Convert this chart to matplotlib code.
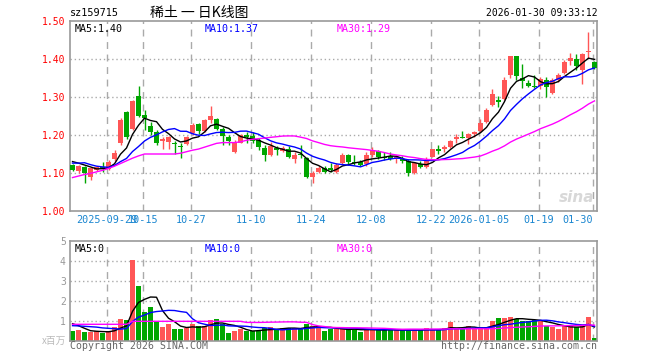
import numpy as np
import matplotlib
matplotlib.use("Agg")
import matplotlib.pyplot as plt

# daily candles, 2025-09-19 .. 2026-01-30 (88 trading days)
opens = [1.121, 1.106, 1.115, 1.090, 1.108, 1.115, 1.110, 1.136, 1.178, 1.260,
         1.216, 1.303, 1.253, 1.224, 1.207, 1.184, 1.182, 1.180, 1.172, 1.176,
         1.204, 1.229, 1.211, 1.239, 1.242, 1.216, 1.196, 1.156, 1.178, 1.200,
         1.197, 1.187, 1.167, 1.147, 1.167, 1.158, 1.162, 1.136, 1.150, 1.139,
         1.090, 1.103, 1.114, 1.114, 1.103, 1.127, 1.147, 1.130, 1.130, 1.125,
         1.147, 1.159, 1.143, 1.145, 1.136, 1.136, 1.132, 1.099, 1.123, 1.117,
         1.143, 1.162, 1.162, 1.168, 1.189, 1.196, 1.191, 1.202, 1.211, 1.233,
         1.279, 1.292, 1.295, 1.358, 1.408, 1.351, 1.338, 1.329, 1.329, 1.345,
         1.311, 1.345, 1.362, 1.395, 1.399, 1.371, 1.418, 1.391]
closes = [1.108, 1.118, 1.101, 1.112, 1.115, 1.111, 1.130, 1.153, 1.239, 1.196,
          1.290, 1.250, 1.246, 1.209, 1.180, 1.189, 1.194, 1.176, 1.169, 1.194,
          1.226, 1.211, 1.239, 1.251, 1.216, 1.197, 1.185, 1.182, 1.200, 1.196,
          1.185, 1.169, 1.147, 1.171, 1.161, 1.165, 1.143, 1.147, 1.147, 1.090,
          1.101, 1.114, 1.103, 1.108, 1.121, 1.147, 1.130, 1.127, 1.121, 1.147,
          1.161, 1.141, 1.139, 1.136, 1.143, 1.132, 1.099, 1.127, 1.117, 1.134,
          1.162, 1.159, 1.169, 1.185, 1.196, 1.193, 1.202, 1.207, 1.232, 1.266,
          1.308, 1.288, 1.345, 1.408, 1.356, 1.342, 1.330, 1.327, 1.347, 1.327,
          1.345, 1.358, 1.393, 1.403, 1.382, 1.412, 1.421, 1.377]
highs = [1.124, 1.121, 1.118, 1.113, 1.119, 1.129, 1.133, 1.160, 1.244, 1.262,
         1.292, 1.330, 1.266, 1.234, 1.213, 1.196, 1.197, 1.184, 1.178, 1.197,
         1.232, 1.232, 1.241, 1.276, 1.246, 1.222, 1.200, 1.186, 1.202, 1.209,
         1.209, 1.192, 1.174, 1.182, 1.171, 1.171, 1.171, 1.156, 1.174, 1.143,
         1.106, 1.118, 1.118, 1.126, 1.126, 1.152, 1.149, 1.147, 1.134, 1.156,
         1.169, 1.161, 1.156, 1.156, 1.147, 1.145, 1.136, 1.130, 1.132, 1.141,
         1.164, 1.174, 1.174, 1.188, 1.202, 1.211, 1.204, 1.211, 1.242, 1.270,
         1.321, 1.303, 1.353, 1.408, 1.408, 1.386, 1.345, 1.358, 1.353, 1.353,
         1.349, 1.362, 1.397, 1.417, 1.412, 1.416, 1.470, 1.395]
lows = [1.104, 1.101, 1.074, 1.082, 1.104, 1.103, 1.107, 1.132, 1.174, 1.189,
        1.212, 1.247, 1.213, 1.200, 1.174, 1.163, 1.163, 1.150, 1.140, 1.173,
        1.200, 1.203, 1.209, 1.231, 1.212, 1.174, 1.174, 1.153, 1.178, 1.178,
        1.180, 1.161, 1.132, 1.145, 1.147, 1.156, 1.140, 1.127, 1.139, 1.088,
        1.073, 1.101, 1.101, 1.103, 1.100, 1.124, 1.120, 1.121, 1.118, 1.118,
        1.143, 1.136, 1.134, 1.134, 1.127, 1.127, 1.092, 1.097, 1.113, 1.113,
        1.141, 1.150, 1.156, 1.166, 1.178, 1.191, 1.176, 1.196, 1.207, 1.231,
        1.277, 1.274, 1.292, 1.351, 1.345, 1.324, 1.327, 1.324, 1.322, 1.299,
        1.309, 1.340, 1.360, 1.384, 1.371, 1.333, 1.402, 1.375]
# volume, millions
volumes = [0.48, 0.55, 0.43, 0.43, 0.47, 0.40, 0.50, 0.68, 1.10, 1.03,
           4.03, 2.73, 1.45, 1.68, 0.98, 0.68, 0.83, 0.58, 0.58, 0.63,
           0.83, 0.73, 0.73, 1.03, 1.08, 0.85, 0.38, 0.48, 0.58, 0.50,
           0.48, 0.48, 0.63, 0.68, 0.58, 0.63, 0.63, 0.63, 0.58, 0.83,
           0.73, 0.73, 0.48, 0.58, 0.58, 0.58, 0.58, 0.58, 0.43, 0.58,
           0.58, 0.53, 0.53, 0.53, 0.53, 0.53, 0.53, 0.53, 0.53, 0.63,
           0.53, 0.53, 0.63, 0.93, 0.58, 0.58, 0.73, 0.58, 0.68, 0.68,
           0.98, 1.13, 1.13, 1.18, 1.08, 0.98, 0.98, 1.03, 1.03, 0.73,
           0.68, 0.58, 0.73, 0.73, 0.68, 0.73, 1.18, 0.13]

# moving-average values before enough candles are on screen
ma5_head = [1.130, 1.126, 1.121, 1.116]
ma10_head = [1.126, 1.126, 1.127, 1.122, 1.118, 1.116, 1.115, 1.120, 1.130]
ma30_head = [1.088, 1.092, 1.096, 1.099, 1.103, 1.107, 1.112, 1.118, 1.125, 1.132,
             1.139, 1.145, 1.150, 1.150, 1.150, 1.150, 1.150, 1.150, 1.152, 1.156,
             1.160, 1.163, 1.168, 1.173, 1.178, 1.180, 1.180, 1.180, 1.182]
vma5_head = [0.85, 0.75, 0.62, 0.50]
vma10_head = [0.75, 0.74, 0.72, 0.70, 0.68, 0.64, 0.62, 0.60, 0.58]
vma30_head = [0.82, 0.82, 0.82, 0.82, 0.82, 0.82, 0.82, 0.82, 0.82, 0.82,
              0.97, 0.97, 0.97, 0.97, 0.97, 0.97, 0.97, 0.97, 0.97, 0.97,
              0.97, 0.97, 0.97, 0.97, 0.97, 0.97, 0.97, 0.97, 0.97]

# legend texts as shown on the chart
price_ma_labels = ['MA5:1.40', 'MA10:1.37', 'MA30:1.29']
vol_ma_labels = ['MA5:0', 'MA10:0', 'MA30:0']

date_labels = ['2025-09-29', '10-15', '10-27', '11-10', '11-24', '12-08',
               '12-22', '2026-01-05', '01-19', '01-30']
date_index = [6, 12, 20, 30, 40, 50, 60, 68, 78, 87]

RED = '#ff5656'
GREEN = '#00a600'
GRID = '#aaaaaa'
MONO = 'DejaVu Sans Mono'
MA_COLORS = ['black', '#0000ff', '#ff00ff']
LABEL_X = [5 / 527, 135 / 527, 267 / 527]


def moving_avg(values, n, head):
    out = []
    for i in range(len(values)):
        if i < n - 1:
            out.append(head[i])
        else:
            out.append(np.mean(values[i - n + 1:i + 1]))
    return out


x = np.arange(len(closes))
up = [c >= o for o, c in zip(opens, closes)]
colors = [RED if u else GREEN for u in up]

fig = plt.figure(figsize=(6.6, 3.6), dpi=100)
ax = fig.add_axes([70 / 660, 1 - 211 / 360, 527 / 660, 190 / 360])
axv = fig.add_axes([70 / 660, 1 - 340.7 / 360, 527 / 660, 100 / 360])

for a in (ax, axv):
    a.set_xlim(-0.42, len(closes) - 0.58)
    for s in a.spines.values():
        s.set_color('#999999')
        s.set_linewidth(1.2)
    for d in date_index:
        a.axvline(d - 0.3, color=GRID, lw=1, ls=(0, (5, 4)), zorder=0)
    a.tick_params(length=0)

# price panel
for p in [1.1, 1.2, 1.3, 1.4]:
    ax.axhline(p, color=GRID, lw=1, ls=(0, (1, 2)), zorder=0)
ax.set_ylim(1.0, 1.5)
ax.set_yticks([1.0, 1.1, 1.2, 1.3, 1.4, 1.5])
ax.set_yticklabels(['%.2f' % v for v in [1.0, 1.1, 1.2, 1.3, 1.4, 1.5]],
                   color='#ff0000', family=MONO, fontsize=7)
ax.tick_params(axis='y', pad=3)

ax.vlines(x, lows, highs, colors=colors, lw=1, zorder=2)
bottoms = [min(o, c) for o, c in zip(opens, closes)]
heights = [max(abs(c - o), 0.0015) for o, c in zip(opens, closes)]
ax.bar(x, heights, bottom=bottoms, width=0.78, color=colors, lw=0, zorder=3)

ma_lines = [moving_avg(closes, 5, ma5_head),
            moving_avg(closes, 10, ma10_head),
            moving_avg(closes, 30, ma30_head)]
for line, c in zip(ma_lines, MA_COLORS):
    ax.plot(x, line, color=c, lw=1, zorder=4)

ax.set_xticks([d - 0.3 for d in date_index])
ax.set_xticklabels(date_labels, color='#1a86d0', family=MONO, fontsize=7.3)
ax.tick_params(axis='x', pad=3)
ax.get_xticklabels()[-1].set_horizontalalignment('right')

for lx, txt, c in zip(LABEL_X, price_ma_labels, MA_COLORS):
    ax.text(lx, 0.985, txt, transform=ax.transAxes, va='top',
            family=MONO, fontsize=7.2, color=c)
ax.text(0.995, 0.03, 'sina', transform=ax.transAxes, ha='right', va='bottom',
        fontsize=11, style='italic', weight='bold', color='#d8d8d8')

# volume panel
for v in [1, 2, 3, 4]:
    axv.axhline(v, color=GRID, lw=1, ls=(0, (1, 2)), zorder=0)
axv.set_ylim(0, 5)
axv.set_yticks([1, 2, 3, 4, 5])
axv.set_yticklabels(['1', '2', '3', '4', '5'], color='#999999', family=MONO, fontsize=7)
axv.tick_params(axis='y', pad=3)
axv.set_xticks([])
axv.bar(x, volumes, width=0.82, color=colors, lw=0, zorder=2)
vol_lines = [moving_avg(volumes, 5, vma5_head),
             moving_avg(volumes, 10, vma10_head),
             moving_avg(volumes, 30, vma30_head)]
for line, c in zip(vol_lines, MA_COLORS):
    axv.plot(x, line, color=c, lw=1, zorder=3)
for lx, txt, c in zip(LABEL_X, vol_ma_labels, MA_COLORS):
    axv.text(lx, 0.97, txt, transform=axv.transAxes, va='top',
             family=MONO, fontsize=7.2, color=c)

# header and footer texts
fig.text(70 / 660, 1 - 13 / 360, 'sz159715', family=MONO, fontsize=7.3, va='center')
fig.text(150 / 660, 1 - 13 / 360, '稀土 一 日K线图', family=['Noto Sans CJK SC', 'DejaVu Sans'],
         fontsize=10, va='center')
fig.text(598 / 660, 1 - 13 / 360, '2026-01-30 09:33:12', family=MONO, fontsize=7,
         va='center', ha='right')
fig.text(66 / 660, 1 - 341 / 360, 'x百万', family=['Noto Sans CJK SC', 'DejaVu Sans'],
         fontsize=7, color='#bbbbbb', va='center', ha='right')
fig.text(70 / 660, 1 - 346 / 360, 'Copyright 2026 SINA.COM', family=MONO, fontsize=7.1,
         color='#666666', va='center')
fig.text(597 / 660, 1 - 346 / 360, 'http://finance.sina.com.cn', family=MONO, fontsize=7.1,
         color='#666666', va='center', ha='right')

fig.savefig('out.png', dpi=100)
